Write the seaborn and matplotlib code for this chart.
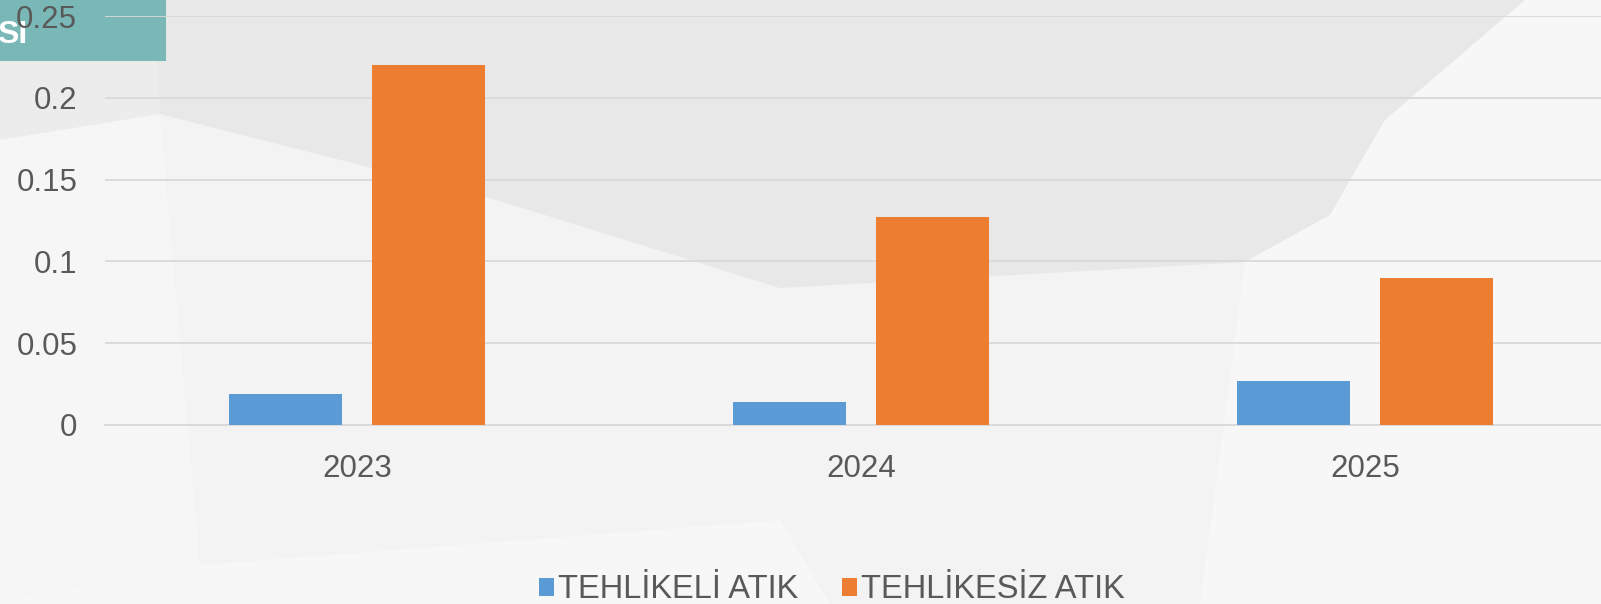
#!/usr/bin/env python3
"""
Grouped bar chart: hazardous vs non-hazardous waste by year.
"""

import pandas as pd
import matplotlib.pyplot as plt
from matplotlib.patches import Polygon, Rectangle
import seaborn as sns

# data
years = ['2023', '2024', '2025']
series_names = ['TEHLİKELİ ATIK', 'TEHLİKESİZ ATIK']
tehlikeli = [0.019, 0.014, 0.027]
tehlikesiz = [0.22, 0.127, 0.09]
y_ticks = [0, 0.05, 0.1, 0.15, 0.2, 0.25]
y_tick_labels = ['0', '0.05', '0.1', '0.15', '0.2', '0.25']

colors = ['#5b9bd5', '#ed7d31']
text_color = '#595959'
W, H = 1601, 604

df = pd.DataFrame({
    'year': years * 2,
    'series': [series_names[0]] * 3 + [series_names[1]] * 3,
    'value': tehlikeli + tehlikesiz,
})

sns.set_theme(style='white')
plt.rcParams['font.family'] = ['Liberation Sans', 'DejaVu Sans']

fig = plt.figure(figsize=(W / 100, H / 100), dpi=100, facecolor='#f3f3f3')


def px(points):
    # pixel coords (origin top-left) -> figure fraction
    return [(x / W, 1 - y / H) for x, y in points]


# slide background shapes
bg_shapes = [
    ([(0, 0), (160, 0), (160, 116), (0, 140)], '#ececec'),
    ([(155, 0), (1525, 0), (1385, 120), (1330, 215), (1245, 262), (780, 288),
      (490, 198), (160, 114)], '#e8e8e8'),
    ([(1525, 0), (W, 0), (W, H), (1200, H), (1245, 262), (1330, 215), (1385, 120)], '#f7f7f7'),
    ([(0, 140), (160, 114), (200, 565), (0, 600)], '#f6f6f6'),
    ([(200, 565), (780, 520), (830, H), (0, H), (0, 600)], '#f7f7f7'),
]
for pts, c in bg_shapes:
    fig.patches.append(Polygon(px(pts), closed=True, transform=fig.transFigure,
                               facecolor=c, edgecolor='none', zorder=-2))

# teal title box (partly cut off)
fig.patches.append(Rectangle((0, 1 - 61 / H), 166 / W, 61 / H, transform=fig.transFigure,
                             facecolor='#79b8b6', edgecolor='none', zorder=-1))
fig.text(-3 / W, 1 - 43 / H, 'SI', color='white', fontsize=23, fontweight='bold',
         ha='left', va='baseline', zorder=-0.5)

ax = fig.add_axes([105 / W, 1 - 425 / H, 1512 / W, 409 / H])
ax.set_facecolor('none')

sns.barplot(data=df, x='year', y='value', hue='series', palette=colors,
            width=0.568, gap=0.21, saturation=1, linewidth=0, ax=ax, zorder=3)

ax.set_xlim(-0.5, 2.5)
ax.set_ylim(0, 0.25)
ax.set_yticks(y_ticks)
ax.set_yticklabels(y_tick_labels)
ax.yaxis.grid(True, color='#d9d9d9', linewidth=1.3)
ax.set_axisbelow(True)
for s in ['top', 'right', 'left']:
    ax.spines[s].set_visible(False)
ax.spines['bottom'].set_color('#d9d9d9')
ax.spines['bottom'].set_linewidth(1.3)
ax.tick_params(axis='y', length=0, pad=20, labelsize=22.5, labelcolor=text_color)
ax.tick_params(axis='x', length=0, pad=21, labelsize=22.5, labelcolor=text_color)
ax.set_xlabel('')
ax.set_ylabel('')

handles, labels = ax.get_legend_handles_labels()
ax.get_legend().remove()
fig.legend(handles, labels, loc='center', bbox_to_anchor=(832 / W, 1 - 590 / H),
           ncol=2, frameon=False, fontsize=23.5, labelcolor=text_color,
           handlelength=0.45, handleheight=0.45, handletextpad=0.12,
           columnspacing=1.35)

plt.savefig('out.png', dpi=100, facecolor=fig.get_facecolor())
